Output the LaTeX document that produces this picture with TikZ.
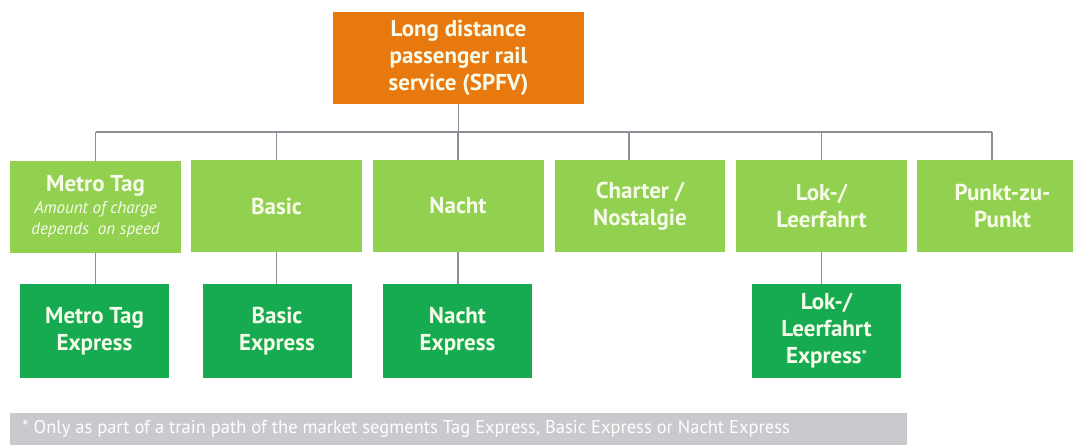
\documentclass[tikz,border=0pt]{standalone}
\usepackage{xcolor}
\usepackage{fontspec}
\setmainfont{PT Sans}
\definecolor{spfvorange}{HTML}{E8790F}
\definecolor{seglight}{HTML}{92D050}
\definecolor{segdark}{HTML}{16AB50}
\definecolor{footgray}{HTML}{C9C9CE}
\definecolor{linkgray}{HTML}{8C9096}
\definecolor{boxtext}{HTML}{F6FBEA}

\begin{document}
\begin{tikzpicture}[x=1pt,y=-1pt,
    box/.style={draw=none, minimum height=92pt, align=center, text=boxtext,
      font=\fontsize{23}{27}\selectfont\bfseries, inner sep=0pt},
    topbox/.style={box, fill=spfvorange, minimum width=251pt},
    segbox/.style={box, fill=seglight, minimum width=171pt},
    expbox/.style={box, fill=segdark, minimum width=149pt, minimum height=94pt},
    link/.style={draw=linkgray, line width=1.2pt}]

          \useasboundingbox (0,0) rectangle (1073,445);

          \node[topbox] (spfv) at (458.5,58) {Long distance\\passenger rail\\service (SPFV)};

          \node[segbox] (mtag) at (95.5,207) {Metro Tag\\[-5pt]{\fontsize{17}{20}\selectfont\mdseries\itshape Amount of charge}\\[-6pt]{\fontsize{17}{20}\selectfont\mdseries\itshape depends~ on speed}};
          \node[segbox] (basic) at (276.5,206) {Basic};
          \node[segbox] (nacht) at (458,206) {Nacht};
          \node[segbox, minimum width=170pt] (charter) at (640,206) {Charter /\\Nostalgie};
          \node[segbox] (lok) at (821.5,206) {Lok-/\\Leerfahrt};
          \node[segbox] (punkt) at (1002.5,206) {Punkt-zu-\\Punkt};

          \node[expbox] (mtagx) at (94.5,331) {Metro Tag\\Express};
          \node[expbox] (basicx) at (277,331) {Basic\\Express};
          \node[expbox] (nachtx) at (457.5,331) {Nacht\\Express};
          \node[expbox] (lokx) at (826.5,331) {Lok-/\\Leerfahrt\\Express\raisebox{3pt}{\fontsize{14}{14}\selectfont*}};

          \coordinate (bar) at (458.5,132);

          \draw[link] (spfv.south) -- (bar);
          \draw[link] (bar -| mtag.north) -- (bar -| 992,0);
          \foreach \seg in {mtag,basic,nacht}
            \draw[link] (bar -| \seg.north) -- (\seg.north);
          \draw[link] (bar -| 629,0) -- (charter.north -| 629,0);
          \draw[link] (bar -| lok.north) -- (lok.north);
          \draw[link] (bar -| 992,0) -- (punkt.north -| 992,0);

          \draw[link] (mtag.south) -- (mtag.south |- mtagx.north);
          \draw[link] (basic.south) -- (basic.south |- basicx.north);
          \draw[link] (nacht.south) -- (nacht.south |- nachtx.north);
          \draw[link] (lok.south) -- (lok.south |- lokx.north);

          \node[fill=footgray, minimum width=897pt, minimum height=32pt, inner sep=0pt,
            anchor=north west] (note) at (10,413) {};
          \node[anchor=west, text=white, font=\fontsize{18.5}{20}\selectfont, inner sep=0pt] (notetext) at (22,429)
            {* Only as part of a train path of the market segments Tag Express, Basic Express or Nacht Express};

          \end{tikzpicture}
\end{document}
